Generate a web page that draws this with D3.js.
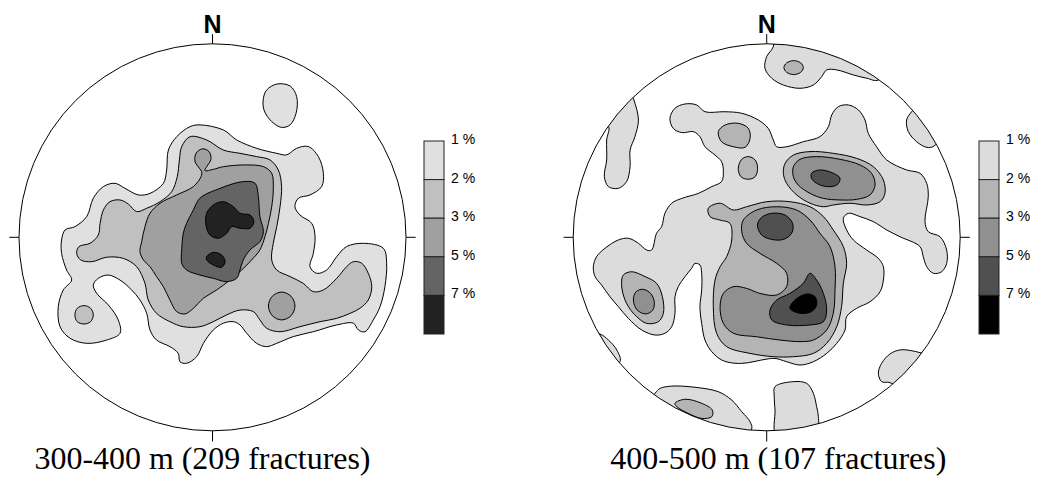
<!DOCTYPE html>
<html><head><meta charset="utf-8">
<script src="https://cdn.jsdelivr.net/npm/d3@7"></script>
<style>body{margin:0;background:#fff}</style>
</head><body>
<svg id="c" width="1042" height="487"></svg>
<script>
// ---------- data ----------
const levels = [1, 2, 3, 5, 7];
const legendLabels = ["1 %", "2 %", "3 %", "5 %", "7 %"];
const titles = ["300-400 m (209 fractures)", "400-500 m (107 fractures)"];
const shadesA = ["#e0e0e0", "#c0c0c0", "#a0a0a0", "#646464", "#222222"];
const shadesB = ["#dcdcdc", "#b4b4b4", "#909090", "#505050", "#000000"];

// contour outlines read from the nets, in % of net radius (x = east, y = north)
// 300-400 m
const a1 = [
 [[28.0,76.1],[33.2,79.2],[40.1,78.2],[43.5,72.7],[43.2,64.1],[40.1,58.1],[35.7,56.8],[30.6,59.8],[26.6,65.8],[26.3,71.8]],
 [[-6.5,58.1],[5.6,55.5],[12.5,50.3],[22.8,46.0],[33.2,43.4],[38.3,42.6],[43.5,46.0],[49.5,46.9],[54.7,41.7],[57.3,33.1],[56.4,26.2],[50.4,21.9],[44.4,20.2],[42.6,15.8],[45.2,11.5],[51.3,7.2],[53.0,0.3],[52.1,-8.3],[50.4,-15.2],[53.8,-18.6],[59.0,-16.9],[64.2,-10.0],[69.3,-4.8],[78.0,-3.1],[88.3,-5.7],[90.0,-13.4],[89.1,-25.5],[86.6,-35.8],[83.1,-42.7],[78.8,-48.8],[75.4,-47.9],[72.8,-44.4],[64.2,-45.3],[52.1,-48.8],[41.8,-51.3],[33.2,-54.8],[28.0,-56.5],[22.8,-54.8],[17.7,-49.6],[14.2,-45.3],[10.8,-43.6],[5.6,-44.4],[0.4,-47.9],[-4.7,-54.8],[-8.2,-61.7],[-13.4,-65.1],[-16.8,-64.3],[-17.7,-60.0],[-22.0,-56.5],[-28.9,-53.1],[-32.3,-47.9],[-34.0,-39.3],[-37.5,-32.4],[-41.8,-27.2],[-47.8,-22.1],[-53.8,-19.5],[-59.0,-21.2],[-61.6,-24.6],[-59.9,-28.9],[-53.8,-35.0],[-48.7,-42.7],[-47.8,-49.6],[-54.7,-53.1],[-65.0,-54.8],[-73.6,-52.2],[-78.8,-46.2],[-79.7,-35.8],[-77.1,-27.2],[-72.8,-22.1],[-75.4,-16.9],[-78.0,-8.3],[-78.0,-1.4],[-76.2,3.8],[-71.1,5.5],[-65.0,10.7],[-61.6,20.2],[-56.4,26.2],[-50.4,27.9],[-45.2,25.3],[-38.3,21.9],[-32.3,22.7],[-25.4,27.9],[-23.7,34.8],[-22.8,45.1],[-18.5,52.0],[-11.6,57.2]]
];
const a2 = [
 [[-11.6,52.0],[-3.0,50.3],[5.6,45.1],[14.2,43.4],[22.8,41.7],[29.7,40.0],[34.0,34.8],[35.7,26.2],[34.9,15.8],[33.2,5.5],[31.4,-3.1],[30.6,-11.7],[33.2,-16.9],[40.1,-20.3],[46.9,-23.8],[52.1,-28.1],[57.3,-27.2],[64.2,-21.2],[69.3,-15.2],[72.8,-12.6],[77.1,-13.4],[80.5,-18.6],[82.3,-25.5],[80.5,-32.4],[76.2,-36.7],[71.1,-39.3],[64.2,-41.9],[55.6,-43.6],[45.2,-46.2],[34.9,-48.8],[28.0,-47.0],[24.5,-42.7],[21.1,-38.4],[14.2,-37.6],[7.3,-40.1],[0.4,-43.6],[-6.5,-46.2],[-15.1,-46.2],[-22.0,-43.6],[-28.9,-39.3],[-33.2,-32.4],[-34.9,-23.8],[-39.2,-15.2],[-46.1,-10.9],[-54.7,-10.3],[-62.4,-12.6],[-68.1,-11.7],[-70.2,-8.3],[-69.0,-4.8],[-63.3,-3.1],[-59.0,1.2],[-58.1,7.2],[-56.4,14.1],[-53.0,18.4],[-47.8,19.3],[-43.5,17.2],[-39.2,13.3],[-34.0,15.0],[-27.1,18.4],[-21.1,23.6],[-18.2,31.4],[-17.1,40.0],[-15.9,46.9]],
 [[-71.1,-40.1],[-69.9,-36.7],[-66.4,-35.3],[-63.0,-36.7],[-61.6,-40.1],[-63.0,-43.6],[-66.4,-44.8],[-69.9,-43.6]]
];
const a3 = [
 [[-6.8,35.7],[-9.0,39.1],[-8.5,43.4],[-5.3,45.7],[-1.8,44.3],[-0.8,40.3],[-3.0,36.5],[-3.9,34.5],[0.4,35.1],[5.6,36.5],[17.7,37.4],[26.3,36.5],[30.6,33.1],[31.4,24.5],[30.6,15.8],[28.9,7.2],[27.1,0.3],[24.5,-6.5],[20.2,-11.7],[15.1,-16.9],[9.0,-22.1],[2.2,-27.2],[-4.7,-31.5],[-9.9,-36.7],[-14.2,-39.6],[-18.5,-38.4],[-22.0,-32.4],[-25.4,-25.5],[-28.9,-20.3],[-32.3,-15.2],[-35.7,-11.7],[-37.5,-7.4],[-36.6,-2.2],[-34.9,5.5],[-32.3,12.4],[-27.1,17.6],[-18.5,21.9],[-9.9,26.2],[-5.9,31.4],[-5.6,33.9]],
 [[28.9,-35.5],[30.9,-30.5],[35.7,-28.3],[40.6,-30.5],[42.6,-35.5],[40.6,-40.5],[35.7,-42.7],[30.9,-40.5]]
];
const a5 = [
 [[-6.5,20.2],[3.9,25.3],[15.9,28.8],[22.0,27.9],[23.7,21.0],[24.5,10.7],[26.3,2.9],[24.5,-2.2],[19.4,-6.5],[15.9,-11.7],[14.2,-16.9],[12.5,-21.2],[7.3,-22.9],[0.4,-21.2],[-6.5,-19.5],[-13.4,-16.9],[-15.9,-13.4],[-15.9,-6.5],[-15.1,2.1],[-13.4,7.2],[-9.9,14.1]]
];
const a7 = [
 [[-3.0,12.4],[0.4,16.7],[5.6,18.4],[10.8,15.8],[14.2,12.4],[19.4,11.5],[21.4,8.1],[19.4,4.7],[14.2,4.7],[9.9,5.5],[7.3,2.1],[3.0,-0.5],[-1.3,1.2],[-3.4,6.4]],
 [[-3.0,-10.0],[0.4,-7.8],[4.7,-9.1],[6.5,-12.6],[4.7,-15.5],[0.4,-14.3],[-3.0,-11.7]]
];
// 400-500 m
const b1 = [
 [[3.4,98.5],[0,93.4],[-0.9,87.3],[2.6,82.2],[8.6,78.7],[17.2,77.0],[24.1,78.7],[28.4,83.0],[31.0,86.5],[36.2,86.5],[44.8,83.9],[51.7,82.2],[57.7,81.3],[65.4,96.8],[5.2,112.3]],
 [[-68.9,71.8],[-66.3,60.6],[-68.1,52.0],[-70.6,45.1],[-70.6,36.5],[-72.4,28.8],[-76.7,25.3],[-81.8,26.2],[-83.9,31.3],[-82.7,40.0],[-82.7,50.3],[-81.8,57.2],[-92,58],[-76,88]],
 [[74.9,64.9],[72.3,60.6],[73.2,54.6],[77.5,49.4],[82.7,46.5],[86.5,47.2],[93.0,57.2],[80.9,71.0]],
 [[-86.2,-50.0],[-81.8,-53.1],[-77.5,-58.2],[-75.8,-64.3],[-86.2,-70.3],[-96.5,-49.6]],
 [[-57.7,-80.6],[-55.1,-78.1],[-49.1,-76.9],[-37.1,-77.5],[-25.0,-79.8],[-18.1,-84.1],[-12.9,-90.1],[-8.6,-95.3],[-7.8,-99.2],[-20.7,-110.0],[-67.2,-92.7]],
 [[4.3,-77.2],[13.8,-74.6],[20.7,-75.5],[24.1,-80.6],[25.8,-87.5],[26.7,-92.7],[25.8,-101.3],[5.2,-103.0],[4.3,-89.3],[3.9,-82.4]],
 [[79.2,-59.6],[74.9,-58.6],[68.9,-58.2],[63.7,-60.3],[59.4,-65.1],[57.7,-70.3],[59.4,-74.6],[63.7,-75.1],[74.1,-80.6],[87.8,-61.7]],
 [[-50.0,61.5],[-47.4,66.7],[-42.2,68.9],[-36.2,68.4],[-31.9,64.9],[-21.6,64.9],[-12.9,64.1],[-4.3,60.6],[0.8,56.3],[3.4,50.3],[5.2,46.8],[10.3,46.8],[18.9,49.4],[27.5,52.0],[31.9,57.2],[33.6,63.2],[37.0,67.5],[42.2,68.4],[47.4,65.8],[50.8,60.6],[52.5,53.7],[56.8,46.8],[62.0,40.0],[72.3,34.8],[79.2,33.1],[82.7,27.9],[83.5,21.0],[81.8,8.1],[83.5,2.9],[89.6,0.3],[93.0,-6.6],[93.0,-13.5],[90.4,-17.8],[86.1,-18.6],[82.7,-15.2],[80.9,-10.0],[79.2,-4.8],[68.9,0.3],[62.0,3.8],[55.1,8.1],[48.2,10.7],[42.2,12.4],[39.6,9.8],[41.3,3.8],[44.8,-1.4],[51.7,-6.6],[57.7,-10.9],[60.3,-15.2],[60.3,-22.1],[58.6,-28.1],[53.4,-33.3],[46.5,-36.7],[41.3,-41.0],[40.5,-47.9],[36.2,-54.8],[31.0,-60.0],[24.1,-64.3],[17.2,-66.0],[10.3,-64.3],[4.3,-62.6],[-2.6,-63.4],[-9.5,-64.8],[-16.4,-65.1],[-23.3,-63.4],[-28.4,-59.1],[-31.9,-53.1],[-33.6,-44.5],[-34.5,-35.8],[-33.6,-27.2],[-33.6,-18.6],[-34.5,-14.3],[-37.1,-13.5],[-38.8,-16.0],[-42.2,-20.3],[-45.7,-25.5],[-47.4,-30.7],[-47.4,-39.3],[-49.1,-46.2],[-52.6,-49.6],[-57.7,-50.5],[-64.6,-47.9],[-71.5,-41.9],[-76.7,-35.8],[-81.0,-30.7],[-85.3,-24.7],[-88.7,-20.3],[-89.6,-15.2],[-87.9,-10.0],[-83.6,-5.7],[-76.7,-1.4],[-71.5,-0.5],[-66.3,-3.1],[-62.0,-6.6],[-59.5,-6.6],[-56.9,2.1],[-54.3,5.5],[-52.6,12.4],[-49.1,17.6],[-43.9,20.1],[-35.3,22.7],[-28.4,26.2],[-23.3,28.8],[-22.4,33.9],[-23.3,39.1],[-26.7,42.5],[-31.9,46.8],[-34.5,52.0],[-37.9,54.6],[-43.9,54.1],[-48.3,56.3]]
];
const b2 = [
 [[8.9,87.7],[10.3,90.1],[13.9,91.3],[17.6,90.1],[18.9,87.7],[17.6,85.3],[13.9,84.1],[10.3,85.3]],
 [[-74.1,-19.5],[-69.8,-17.8],[-62.9,-20.3],[-56.9,-23.8],[-53.9,-30.7],[-53.4,-39.3],[-56.0,-43.6],[-62.0,-44.5],[-67.2,-41.0],[-71.5,-35.8],[-74.1,-29.8],[-75.0,-23.8]],
 [[-25.0,54.6],[-21.6,58.0],[-14.7,58.9],[-9.5,56.3],[-8.6,51.1],[-11.2,46.5],[-17.2,46.8],[-23.3,49.4]],
 [[-14.7,35.6],[-12.9,40.3],[-9.5,41.7],[-6.0,40.0],[-4.7,35.6],[-6.0,31.3],[-9.5,30.0],[-13.3,31.3]],
 [[9.5,38.2],[13.8,42.5],[22.4,44.3],[34.4,43.4],[46.5,40.8],[55.1,36.5],[60.3,29.6],[61.1,22.7],[58.6,18.4],[51.7,16.7],[43.1,17.6],[34.4,16.7],[29.3,15.8],[22.4,17.6],[15.5,21.9],[10.3,27.9],[8.6,33.1]],
 [[-30.2,15.0],[-24.1,17.6],[-17.2,14.1],[-10.4,15.8],[0,18.4],[12.0,18.4],[22.4,15.8],[29.3,10.7],[34.4,3.8],[39.6,-4.8],[41.3,-13.5],[39.6,-23.8],[38.7,-35.8],[36.2,-46.2],[31.0,-54.8],[24.1,-60.0],[13.8,-61.7],[3.4,-61.7],[-8.6,-60.0],[-20.7,-56.5],[-25.9,-49.6],[-27.6,-35.8],[-26.7,-22.1],[-24.1,-15.2],[-20.7,-10.0],[-18.1,-1.4],[-19.0,7.2],[-24.1,8.9],[-29.3,10.7]],
 [[-47.4,-85.8],[-42.2,-83.7],[-33.6,-85.8],[-28.1,-89.3],[-28.4,-92.7],[-33.6,-93.6],[-40.5,-91.0],[-46.5,-87.5]]
];
const b3 = [
 [[-68.9,-32.4],[-67.5,-28.1],[-63.8,-26.9],[-60.0,-29.0],[-58.1,-33.3],[-58.9,-37.6],[-62.4,-39.6],[-66.9,-37.6]],
 [[13.8,36.5],[17.2,40.3],[25.8,41.7],[37.9,40.3],[48.2,37.4],[54.2,33.1],[56.0,27.0],[53.4,21.9],[46.5,19.6],[37.9,19.3],[29.3,20.1],[22.4,22.7],[16.3,27.0],[13.8,31.3]],
 [[-12.1,8.9],[-5.2,14.1],[5.2,15.8],[15.5,14.1],[22.4,8.9],[27.5,2.1],[32.7,-4.8],[35.3,-15.2],[35.3,-27.2],[34.4,-39.3],[31.0,-47.9],[24.1,-53.1],[17.2,-53.9],[6.9,-53.1],[-5.2,-51.4],[-17.2,-49.6],[-22.4,-44.5],[-24.1,-35.8],[-22.4,-29.0],[-17.2,-25.5],[-10.4,-26.4],[-3.5,-29.0],[5.2,-29.8],[10.3,-25.5],[10.3,-18.6],[5.2,-13.5],[-3.5,-8.3],[-10.4,-3.1],[-12.9,2.9]]
];
const b5 = [
 [[23.2,33.1],[27.5,34.8],[34.4,33.1],[37.9,30.5],[36.2,27.0],[31.0,26.2],[25.8,27.9],[23.2,30.5]],
 [[-4.8,6.4],[-2.6,10.3],[2.6,12.4],[9.5,11.5],[13.4,7.2],[12.9,2.1],[8.6,-1.1],[2.6,-1.1],[-2.6,1.2]],
 [[1.7,-37.6],[5.2,-32.4],[12.0,-29.0],[18.9,-23.8],[22.4,-18.6],[25.8,-22.1],[29.3,-29.0],[31.0,-37.6],[29.3,-43.6],[22.4,-45.3],[10.3,-45.3],[2.6,-42.7]]
];
const b7 = [
 [[12.0,-36.7],[14.6,-32.4],[20.7,-29.3],[25.0,-30.7],[25.8,-35.0],[23.2,-38.4],[17.2,-39.3]]
];

// ---------- drawing ----------
const svg = d3.select("#c");
const R = 193.5;
const nets = [
  {id: "a", cx: 212.5, cy: 237.3, rings: [a1, a2, a3, a5, a7], shades: shadesA, title: titles[0], tx: 202.5, lx: 424},
  {id: "b", cx: 766.7, cy: 237.3, rings: [b1, b2, b3, b5, b7], shades: shadesB, title: titles[1], tx: 778.3, lx: 979}
];

nets.forEach(net => {
  const x = d3.scaleLinear().domain([-100, 100]).range([net.cx - R, net.cx + R]);
  const y = d3.scaleLinear().domain([-100, 100]).range([net.cy + R, net.cy - R]);
  const g = svg.append("g");

  svg.append("clipPath").attr("id", "clip-" + net.id)
    .append("circle").attr("cx", x(0)).attr("cy", y(0)).attr("r", x(100) - x(0));

  const line = d3.line().x(d => x(d[0])).y(d => y(d[1]))
    .curve(d3.curveCatmullRomClosed.alpha(0.5));

  const cg = g.append("g").attr("clip-path", `url(#clip-${net.id})`);
  net.rings.forEach((rings, i) => {
    cg.append("g").selectAll("path").data(rings).join("path")
      .attr("d", line)
      .attr("fill", net.shades[i])
      .attr("stroke", "#000")
      .attr("stroke-width", 1)
      .attr("stroke-linejoin", "round");
  });

  g.append("circle").attr("cx", x(0)).attr("cy", y(0)).attr("r", x(100) - x(0))
    .attr("fill", "none").attr("stroke", "#000").attr("stroke-width", 1);

  // ticks at N, E, S, W
  const ticks = [[[0, 100], [0, 105]], [[0, -100], [0, -105.5]], [[-100, 0], [-105, 0]], [[100, 0], [105, 0]]];
  g.selectAll("line.tick").data(ticks).join("line")
    .attr("x1", d => x(d[0][0])).attr("y1", d => y(d[0][1]))
    .attr("x2", d => x(d[1][0])).attr("y2", d => y(d[1][1]))
    .attr("stroke", "#000").attr("stroke-width", 1);

  g.append("text").attr("x", x(0)).attr("y", 33)
    .attr("text-anchor", "middle")
    .attr("font-family", "'Liberation Sans', Arial, sans-serif")
    .attr("font-weight", "bold").attr("font-size", 25)
    .text("N");

  g.append("text").attr("x", net.tx).attr("y", 469)
    .attr("text-anchor", "middle")
    .attr("font-family", "'Liberation Serif', 'Times New Roman', serif")
    .attr("font-size", 31)
    .attr("textLength", 336).attr("lengthAdjust", "spacingAndGlyphs")
    .text(net.title);

  // legend
  const ly = d3.scaleLinear().domain([0, levels.length]).range([141, 334]);
  const lg = g.append("g");
  lg.selectAll("rect").data(levels).join("rect")
    .attr("x", net.lx).attr("y", (d, i) => ly(i))
    .attr("width", 20).attr("height", (d, i) => ly(i + 1) - ly(i))
    .attr("fill", (d, i) => net.shades[i])
    .attr("stroke", "#222").attr("stroke-width", 1);
  lg.selectAll("text").data(legendLabels).join("text")
    .attr("x", net.lx + 27).attr("y", (d, i) => ly(i) - 2)
    .attr("dy", "0.35em")
    .attr("font-family", "'Liberation Sans', Arial, sans-serif")
    .attr("font-size", 14)
    .text(d => d);
});
</script>
</body></html>
